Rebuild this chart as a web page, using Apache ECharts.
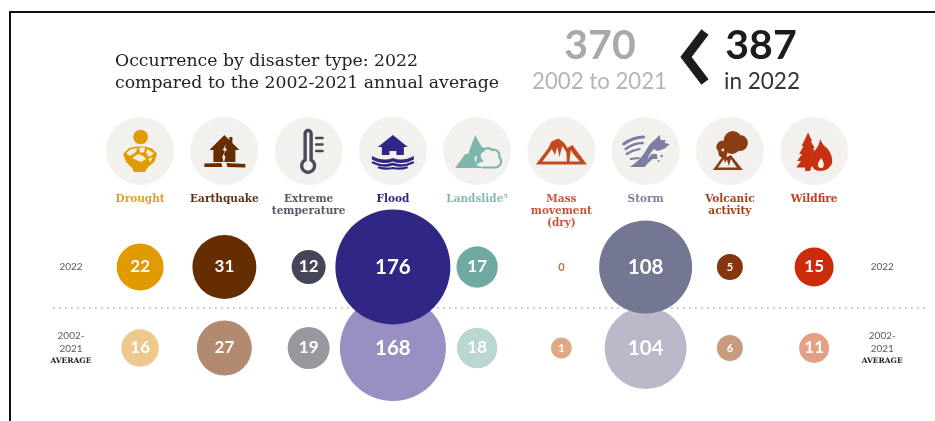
<!DOCTYPE html>
<html>
<head>
<meta charset="utf-8">
<style>html,body{margin:0;padding:0;background:#fff}#c{width:935px;height:421px}</style>
<script src="https://cdn.jsdelivr.net/npm/echarts@6/dist/echarts.min.js"></script>
</head>
<body>
<div id="c"></div>
<script>
// Disaster types along the top axis
const categories = ['Drought', 'Earthquake', 'Extreme\ntemperature', 'Flood', 'Landslide⁵',
  'Mass\nmovement\n(dry)', 'Storm', 'Volcanic\nactivity', 'Wildfire'];
const rowLabels = ['2002-2021', '2022'];

// Number of occurrences per type
const values2022 = [22, 31, 12, 176, 17, 0, 108, 5, 15];
const valuesAverage = [16, 27, 19, 168, 18, 1, 104, 6, 11];

const totalAverage = 370;
const total2022 = 387;

// Colours per type
const labelColors = ['#dca22a', '#603413', '#5a5a66', '#302683', '#86b9b1', '#c2583a', '#80819f', '#a3421c', '#c43d22'];
const colors2022 = ['#e09b00', '#662e00', '#45455a', '#302683', '#6fa9a0', '#c8703c', '#747792', '#86360f', '#cb2c0a'];
const colorsAverage = ['#eec98d', '#b28a70', '#99989f', '#9a8fc3', '#bbd7d1', '#dfa986', '#bbb9c9', '#c99b7e', '#e4a084'];

// Piecewise value-to-diameter scales, one per row: [value, diameter]
const sizeScale2022 = [[0, 0], [1, 20], [5, 26], [12, 34], [15, 39], [22, 47], [31, 64], [108, 93], [176, 115]];
const sizeScaleAverage = [[0, 0], [1, 21], [6, 26], [11, 30], [19, 42], [27, 55], [104, 82], [168, 106]];

function scaleSize(stops, v) {
  for (let i = 1; i < stops.length; i++) {
    if (v <= stops[i][0]) {
      const [a, b] = [stops[i - 1], stops[i]];
      return a[1] + (b[1] - a[1]) * (v - a[0]) / (b[0] - a[0]);
    }
  }
  return stops[stops.length - 1][1];
}

function labelSize(v) {
  if (v < 10) return 11;
  if (v < 100) return 17;
  return 20.5;
}

const DISC = '#f2f1ed';
const circle = (x, y, r) => `M${x - r} ${y}A${r} ${r} 0 1 1 ${x + r} ${y}A${r} ${r} 0 1 1 ${x - r} ${y}Z`;

// Pictograms drawn around each disc centre: fill, stroke and line width per part
const icons = [
  [ // drought
    { d: circle(0.5, -14, 7.3), f: '#e09b00' },
    { d: 'M-17 3L-11 -3L-3 -4.5L5 -4.5L12 -2.5L17 3L14 11L7 17L5 21L-6 21L-8 17L-14 11Z', f: '#e09b00' },
    { d: 'M-14 2.5L-10 -1.5L-3 -3L-4 1L-10 5Z', f: '#f4edda' },
    { d: 'M-1 -3.5L5 -3.5L4 1L0 2Z', f: '#f4edda' },
    { d: 'M7 -2L14 2.5L9 6L6 2Z', f: '#f4edda' },
    { d: 'M-8 7L-2 3L3 5L6 8L1 11L-4 9Z', f: '#f4edda' },
    { d: 'M8 8L13 6L10 11Z', f: '#f4edda' }
  ],
  [ // earthquake
    { d: 'M0 -16L5 -11L5 -14L8 -14L8 -8L15 -1L11 -1L11 11L-11 11L-11 -1L-15 -1Z', f: '#662e00' },
    { d: 'M1.5 -7L-1.5 -1L0.5 0L-2 6L-0.5 12L1 6L-0.5 3L2.5 -2L0.5 -3Z', f: DISC },
    { d: 'M-20 12.5L-3 12L-2 16L-20 16Z', f: '#662e00' },
    { d: 'M2 12L21 13L21 16.5L3 16Z', f: '#662e00' }
  ],
  [ // extreme temperature
    { d: 'M-3.5 9L-3.5 -17.5A3 3 0 0 1 2.5 -17.5L2.5 9A6.5 6.5 0 1 1 -3.5 9Z', s: '#4a4a58', w: 3.4 },
    { d: 'M7.5 -13L14 -13M7.5 -6.5L14 -6.5M7.5 0L14 0', s: '#4a4a58', w: 2.4 }
  ],
  [ // flood
    { d: 'M0 -16L15 -4L11 -4L11 4L3.5 4L3.5 0L-3.5 0L-3.5 4L-11 4L-11 -4L-15 -4Z', f: '#302683' },
    { d: 'M-21 5Q-10 11 0 7Q10 11 21 5L21 8.5Q10 14.5 0 10.5Q-10 14.5 -21 8.5Z', f: '#302683' },
    { d: 'M-20 11.5Q-10 16.5 0 13Q10 16.5 20 11.5', s: '#302683', w: 2.4 },
    { d: 'M-14 16.5Q-7 18.5 0 17Q7 18.5 14 16.5', s: '#302683', w: 2.2 }
  ],
  [ // landslide
    { d: 'M-2 -16L4 -5L8 -2L3 4L5 10L-1 14L7 17L-22 17L-12 3L-9 3Z', f: '#7fb5ad' },
    { d: 'M-3 7L0 4L-1 12Z', f: DISC },
    { d: 'M6 16.5L18 16.5A6 6 0 0 0 22 6A5.5 5.5 0 0 0 15 -1A5.5 5.5 0 0 0 6 0A5.5 5.5 0 0 0 5 10', s: '#7fb5ad', w: 2.2 }
  ],
  [ // mass movement
    { d: 'M-25.5 13.5L-13 -3L-10 -9.5L-3 -12.5L3 -8L6 -3L11 -6L25.5 13.5Z', f: '#c24a1e' },
    { d: 'M-19 10.5L-9.5 -2L-6.5 4L-4 -4L-2 6L1 -5L5 1L5.5 10.5Z', f: DISC },
    { d: 'M8 10.5L9.5 -1L12 3L18.5 10.5Z', f: DISC }
  ],
  [ // storm
    { d: 'M-22 -7Q-12 -14 -2 -14', s: '#7c7da0', w: 3 },
    { d: 'M-20 -2Q-12 -8 -3 -8', s: '#7c7da0', w: 2.4 },
    { d: 'M-19 3Q-13 -1 -6 -2', s: '#7c7da0', w: 2.2 },
    { d: 'M-15 8L-7 7', s: '#7c7da0', w: 2 },
    { d: 'M-16 16Q-6 10 0 0Q4 -8 10 -12L14 -16L15 -11L20 -11L19 -8L24 -7L20 -3L15 -1L12 0L8 -2Q3 4 2 8L6 3L11 3L12 8L7 8Q3 11 -1 16Z', f: '#7c7da0' },
    { d: circle(16, 5, 1.2) + circle(13, 10, 1), f: '#7c7da0' }
  ],
  [ // volcanic activity
    { d: circle(3, -11, 9) + circle(10, -8, 8) + circle(2, -6, 9) + circle(-7, -4, 6.5) + circle(-7, 2, 4.5), f: '#8a3c14' },
    { d: circle(-7, -1, 1.4), f: DISC },
    { d: 'M-17 19L-5 2.5L-3 6L1 4L13 19Z', f: '#8a3c14' },
    { d: 'M-12 16.5L-6 8L-5 12L-3 8.5L-1 15L1 8L7 16.5Z', f: DISC }
  ],
  [ // wildfire
    { d: 'M-6 -18.5L-2 -10L-3.5 -10L0.5 -3L-1 -3L1 2L-1.5 3.5Q-4 9 -1 14L-3 16.5L-4 20L-9 20L-9 16.5L-18 16.5L-13 10L-17 10L-12 3L-15 3L-10.5 -5L-12.5 -5Z', f: '#c8310f' },
    { d: 'M6 -12Q9 -5 13 -3Q19 5 18 12Q15 19.5 7 20Q-3 20 -3 10Q-3 4 1 -1Q5 -5 6 -12ZM7 7Q3 12 4 15.5Q6 18 9 16.5Q11 12 7 7Z', f: '#c8310f' }
  ]
];

const chart = echarts.init(document.getElementById('c'));
const rowFont = 'Lato';
const slab = '"DejaVu Serif"';

function rowAxisLabel(value) {
  return value === '2022' ? '{y|2022}' : '{y|2002-}\n{y|2021}\n{a|AVERAGE}';
}
const rowRich = {
  y: { fontFamily: rowFont, fontSize: 10, lineHeight: 13, color: '#5a5a5a' },
  a: { fontFamily: slab, fontSize: 7.5, fontWeight: 'bold', lineHeight: 12, color: '#222' }
};

function bubbleSeries(name, rowName, values, colors, stops) {
  return {
    name, type: 'scatter', z: 3,
    data: values.map((v, i) => ({
      value: [categories[i], rowName, v],
      label: {
        fontSize: labelSize(v), fontWeight: 'bold', fontFamily: 'Lato',
        color: v === 0 ? colors[i] : '#fff'
      }
    })),
    encode: { x: 0, y: 1 },
    symbol: 'circle',
    symbolSize: d => scaleSize(stops, d[2]),
    itemStyle: { opacity: 1, color: p => colors[p.dataIndex] },
    label: { show: true, position: 'inside', formatter: p => String(p.value[2]) },
    emphasis: { disabled: true }
  };
}

chart.setOption({
  animation: false,
  backgroundColor: '#fff',
  grid: { left: 98, top: 226.5, width: 758.25, height: 162 },
  xAxis: {
    type: 'category', position: 'top', data: categories,
    axisLine: { show: false }, axisTick: { show: false }, splitLine: { show: false },
    axisLabel: {
      interval: 0, margin: 33, verticalAlign: 'top', align: 'center',
      fontFamily: slab, fontWeight: 'bold', fontSize: 10.5, lineHeight: 12,
      color: (v, i) => labelColors[i]
    }
  },
  yAxis: [
    {
      type: 'category', data: rowLabels, position: 'left',
      axisLine: { show: false }, axisTick: { show: false }, splitLine: { show: false },
      axisLabel: { margin: 27, align: 'center', formatter: rowAxisLabel, rich: rowRich }
    },
    {
      type: 'category', data: rowLabels, position: 'right',
      axisLine: { show: false }, axisTick: { show: false }, splitLine: { show: false },
      axisLabel: { margin: 26, align: 'center', formatter: rowAxisLabel, rich: rowRich }
    }
  ],
  series: [
    {
      // Pictogram discs above each column
      type: 'custom', z: 1, clip: false, silent: true,
      data: categories.map((c, i) => [c, rowLabels[1], i]),
      encode: { x: 0, y: 1 },
      renderItem: (params, api) => {
        const cx = api.coord([api.value(2), 1])[0];
        const children = [{ type: 'circle', shape: { cx: 0, cy: 0, r: 34 }, style: { fill: DISC } }];
        icons[params.dataIndex].forEach(p => {
          children.push({
            type: 'path', shape: { pathData: p.d },
            style: { fill: p.f || 'none', stroke: p.s || 'none', lineWidth: p.w || 0, lineCap: 'round' }
          });
        });
        return { type: 'group', x: cx, y: 151, children };
      }
    },
    bubbleSeries('2002-2021 average', rowLabels[0], valuesAverage, colorsAverage, sizeScaleAverage),
    bubbleSeries('2022', rowLabels[1], values2022, colors2022, sizeScale2022)
  ],
  graphic: [
    { type: 'polyline', z: -1, shape: { points: [[10, 421], [10, 12], [935, 12]] }, style: { stroke: '#111', lineWidth: 2, fill: 'none' } },
    { type: 'line', z: -1, shape: { x1: 53, y1: 308, x2: 925, y2: 308 }, style: { stroke: '#b0b0b0', lineWidth: 1.6, lineDash: [1.6, 4.4] } },
    { type: 'text', x: 115, y: 62, style: { text: 'Occurrence by disaster type: 2022', fontFamily: slab, fontSize: 17.3, fill: '#222', verticalAlign: 'middle' } },
    { type: 'text', x: 115, y: 84, style: { text: 'compared to the 2002-2021 annual average', fontFamily: slab, fontSize: 17.3, fill: '#222', verticalAlign: 'middle' } },
    { type: 'text', x: 600, y: 46, style: { text: String(totalAverage), fontFamily: 'Lato', fontWeight: 'bold', fontSize: 41, fill: '#a9a9a9', align: 'center', verticalAlign: 'middle' } },
    { type: 'text', x: 599.5, y: 82, style: { text: '2002 to 2021', fontFamily: 'Lato', fontSize: 22.2, fill: '#b5b5b5', align: 'center', verticalAlign: 'middle' } },
    { type: 'polyline', shape: { points: [[705, 32], [686, 57], [705, 82]] }, style: { stroke: '#1c1c1c', lineWidth: 9, fill: 'none', lineJoin: 'miter' } },
    { type: 'text', x: 761, y: 46, style: { text: String(total2022), fontFamily: 'Lato', fontWeight: 'bold', fontSize: 41, fill: '#1c1c1c', align: 'center', verticalAlign: 'middle' } },
    { type: 'text', x: 762, y: 82, style: { text: 'in 2022', fontFamily: 'Lato', fontSize: 22.5, fill: '#333', align: 'center', verticalAlign: 'middle' } }
  ]
});
</script>
</body>
</html>
